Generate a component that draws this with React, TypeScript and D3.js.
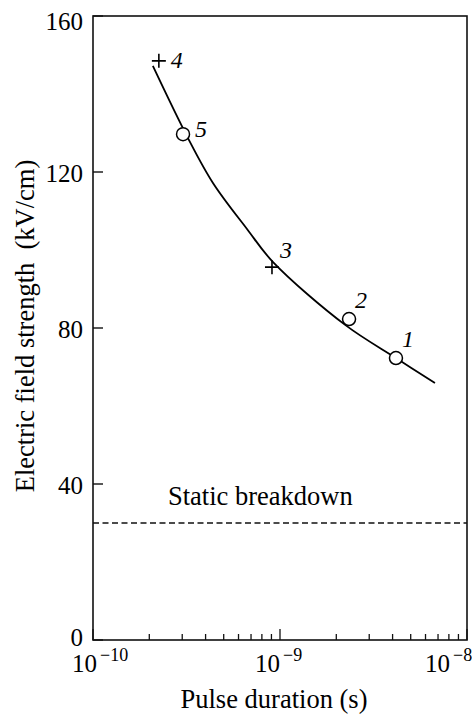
import React, {useEffect, useRef} from 'react'
import * as d3 from 'd3'

// measured points (1..5), crosses and circles as in the figure
const pointIds = ['1', '2', '3', '4', '5']
const pointDurations = [4.17e-9, 2.34e-9, 9.06e-10, 2.25e-10, 3.03e-10]
const pointFields = [72.3, 82.3, 95.6, 148.5, 129.7]
const pointMarkers = ['circle', 'circle', 'plus', 'plus', 'circle']

// smooth fitted curve
const fitDurations = [2.09e-10, 3.22e-10, 4.38e-10, 6.66e-10, 9.18e-10, 2.23e-9, 4.17e-9, 6.74e-9]
const fitFields = [147.2, 128.7, 117.2, 105.4, 96.9, 80.8, 72.3, 65.9]

const staticBreakdown = 30
const staticLabel = 'Static breakdown'

const yTicks = [0, 40, 80, 120, 160]
const xDecades = [1e-10, 1e-9, 1e-8]
const xExponents = ['\u221210', '\u22129', '\u22128']

const xTitle = 'Pulse duration (s)'
const yTitle = 'Electric field strength\u00a0\u00a0(kV/cm)'

const App = () => {
  const ref = useRef<SVGSVGElement>(null)

  useEffect(() => {
    const width = 472
    const height = 715
    const margin = {top: 16, right: 5, bottom: 75, left: 93}
    const font = "'Liberation Serif', 'DejaVu Serif', 'Times New Roman', serif"

    const x = d3.scaleLog()
      .domain([1e-10, 1e-8])
      .range([margin.left, width - margin.right])
    const y = d3.scaleLinear()
      .domain([0, 160])
      .range([height - margin.bottom, margin.top])

    const svg = d3.select(ref.current)
    svg.selectAll('*').remove()
    svg.style('font-family', font).attr('fill', '#000')

    const x0 = x.range()[0], x1 = x.range()[1]
    const y0 = y.range()[0], y1 = y.range()[1]

    // frame
    svg.append('rect')
      .attr('x', x0).attr('y', y1)
      .attr('width', x1 - x0).attr('height', y0 - y1)
      .attr('fill', 'none').attr('stroke', '#111').attr('stroke-width', 1.6)

    // y ticks (inward) + labels
    const yg = svg.append('g')
    yg.selectAll('line').data(yTicks).join('line')
      .attr('x1', x0).attr('x2', x0 + 10)
      .attr('y1', d => y(d)).attr('y2', d => y(d))
      .attr('stroke', '#111').attr('stroke-width', 1.4)
    yg.selectAll('text').data(yTicks).join('text')
      .attr('x', x0 - 10)
      .attr('y', d => y(d) + (d === 160 ? 5 : d === 0 ? -3 : 1))
      .attr('dy', '0.35em')
      .attr('text-anchor', 'end')
      .attr('font-size', 25)
      .style('font-family', font)
      .text(d => d)

    // x ticks: minor 2..9 per decade, major at decades
    const minor: number[] = []
    xDecades.slice(0, -1).forEach(dec => {
      for (let k = 2; k <= 9; k++) minor.push(dec * k)
    })
    const xg = svg.append('g')
    xg.selectAll('line.minor').data(minor).join('line')
      .attr('class', 'minor')
      .attr('x1', d => x(d)).attr('x2', d => x(d))
      .attr('y1', y0).attr('y2', y0 - 6)
      .attr('stroke', '#111').attr('stroke-width', 1.3)
    xg.selectAll('line.major').data(xDecades).join('line')
      .attr('class', 'major')
      .attr('x1', d => x(d)).attr('x2', d => x(d))
      .attr('y1', y0).attr('y2', y0 - 11)
      .attr('stroke', '#111').attr('stroke-width', 1.3)

    const xl = xg.selectAll('g.lab').data(xDecades).join('g')
      .attr('class', 'lab')
      .attr('transform', (d, i) => `translate(${Math.min(x(d) + (i === 0 ? 4 : 0), width - 22)},0)`)
    xl.append('text')
      .attr('x', 0).attr('y', y0 + 32)
      .attr('text-anchor', 'end')
      .attr('font-size', 25)
      .style('font-family', font)
      .text('10')
    xl.append('text')
      .attr('x', 3).attr('y', y0 + 21)
      .attr('text-anchor', 'start')
      .attr('font-size', 18)
      .style('font-family', font)
      .text((d, i) => xExponents[i])

    // axis titles
    svg.append('text')
      .attr('x', (x0 + x1) / 2 - 6).attr('y', 708)
      .attr('text-anchor', 'middle')
      .attr('font-size', 26.5)
      .style('font-family', font)
      .text(xTitle)
    svg.append('text')
      .attr('transform', `translate(34,326) rotate(-90)`)
      .attr('text-anchor', 'middle')
      .attr('font-size', 26.5)
      .style('font-family', font)
      .text(yTitle)

    // static breakdown line
    svg.append('line')
      .attr('x1', x0).attr('x2', x1)
      .attr('y1', y(staticBreakdown)).attr('y2', y(staticBreakdown))
      .attr('stroke', '#111').attr('stroke-width', 1.4)
      .attr('stroke-dasharray', '6,3.5')
    svg.append('text')
      .attr('x', x0 + 75).attr('y', y(staticBreakdown) - 18)
      .attr('font-size', 26.5)
      .style('font-family', font)
      .text(staticLabel)

    // fitted curve
    const line = d3.line<number>()
      .x(i => x(fitDurations[i]))
      .y(i => y(fitFields[i]))
      .curve(d3.curveCatmullRom.alpha(0.5))
    svg.append('path')
      .attr('d', line(d3.range(fitDurations.length)))
      .attr('fill', 'none').attr('stroke', '#000').attr('stroke-width', 1.8)

    // markers
    const offsets: Record<string, [number, number]> = {
      '1': [6, -11], '2': [6, -11], '3': [8, -9], '4': [12, 7], '5': [12, 3],
    }
    const pts = svg.append('g').selectAll('g').data(d3.range(pointIds.length)).join('g')
      .attr('transform', i => `translate(${x(pointDurations[i])},${y(pointFields[i])})`)
    pts.filter(i => pointMarkers[i] === 'circle').append('circle')
      .attr('r', 6.5).attr('fill', '#fff').attr('stroke', '#000').attr('stroke-width', 1.5)
    pts.filter(i => pointMarkers[i] === 'plus').append('path')
      .attr('d', 'M-7,0H7M0,-7V7')
      .attr('stroke', '#000').attr('stroke-width', 1.6)
    pts.append('text')
      .attr('x', i => offsets[pointIds[i]][0])
      .attr('y', i => offsets[pointIds[i]][1])
      .attr('font-size', 24)
      .attr('font-style', 'italic')
      .style('font-family', font)
      .text(i => pointIds[i])
  }, [])

  return <svg ref={ref} width={472} height={715}
    style={{position: 'absolute', left: 0, top: 0, background: '#fff'}} />
}

export default App
